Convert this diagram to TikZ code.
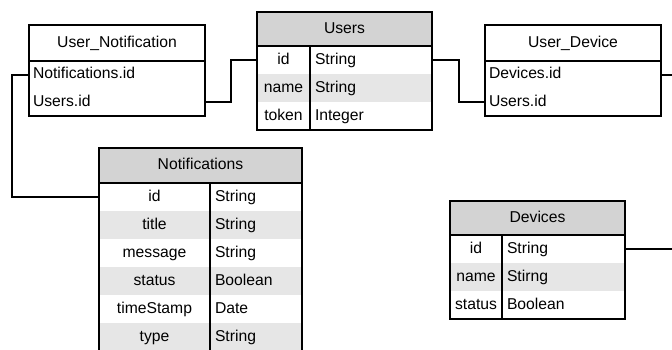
\documentclass[tikz,border=0pt]{standalone}
\usepackage{fontspec}
\setmainfont{Liberation Sans}
\definecolor{headgray}{HTML}{D3D3D3}
\definecolor{rowgray}{HTML}{E6E6E6}

\tikzset{
  every node/.style={font=\fontsize{15.7}{18}\selectfont, inner sep=0pt, outer sep=0pt,
    text height=11.5pt, text depth=3.5pt},
  head/.style 2 args={draw, fill=#2, anchor=north west, minimum width=#1pt, minimum height=34pt},
  namecell/.style={anchor=north west, minimum height=28pt, minimum width=#1pt},
  typecell/.style={anchor=north west, minimum height=28pt, text width=#1pt, align=left, inner xsep=5pt}
}

\begin{document}
\begin{tikzpicture}
  [x=1pt,y=-1pt,line width=1.6pt]
  \useasboundingbox (0,0) rectangle (672,349);
  \clip (0,0) rectangle (672,349);

  % User_Notification
  \node[head={176}{white}, minimum height=36pt] (unotif) at (29,25) {User\_Notification};
  \node[typecell=168, inner xsep=4pt, minimum height=27.5pt] (unotif-r1) at (29,61) {Notifications.id};
  \node[typecell=168, inner xsep=4pt, minimum height=27.5pt] (unotif-r2) at (unotif-r1.south west) {Users.id};
  \draw (unotif-r1.north west) rectangle (unotif-r2.south east);

  % Users
  \node[head={175}{headgray}] (users) at (257,12) {Users};
  \foreach \n/\t/\c [count=\i] in {id/String/white, name/String/rowgray, token/Integer/white} {
    \node[namecell=53, fill=\c] (users-n\i) at (257,{18+28*\i}) {\n};
    \node[typecell=112, fill=\c] (users-t\i) at (users-n\i.north east) {\t};
  }
  \draw (users-n1.north west) rectangle (users-t3.south east);
  \draw (users-n1.north east) -- (users-n3.south east);

  % User_Device
  \node[head={176}{white}, minimum height=36pt] (udevice) at (485,25) {User\_Device};
  \node[typecell=168, inner xsep=4pt, minimum height=27.5pt] (udevice-r1) at (485,61) {Devices.id};
  \node[typecell=168, inner xsep=4pt, minimum height=27.5pt] (udevice-r2) at (udevice-r1.south west) {Users.id};
  \draw (udevice-r1.north west) rectangle (udevice-r2.south east);

  % Notifications
  \node[head={203}{headgray}, minimum height=35pt] (notif) at (99,148) {Notifications};
  \foreach \n/\t/\c [count=\i] in {id/String/white, title/String/rowgray, message/String/white,
      status/Boolean/rowgray, timeStamp/Date/white, type/String/rowgray} {
    \node[namecell=111, fill=\c] (notif-n\i) at (99,{155+28*\i}) {\n};
    \node[typecell=82, fill=\c] (notif-t\i) at (notif-n\i.north east) {\t};
  }
  \draw (notif-n1.north west) rectangle (notif-t6.south east);
  \draw (notif-n1.north east) -- (notif-n6.south east);

  % Devices
  \node[head={175}{headgray}] (devices) at (450,201) {Devices};
  \foreach \n/\t/\c [count=\i] in {id/String/white, name/Stirng/rowgray, status/Boolean/white} {
    \node[namecell=52, fill=\c] (devices-n\i) at (450,{207+28*\i}) {\n};
    \node[typecell=113, fill=\c] (devices-t\i) at (devices-n\i.north east) {\t};
  }
  \draw (devices-n1.north west) rectangle (devices-t3.south east);
  \draw (devices-n1.north east) -- (devices-n3.south east);

  % links
  \draw (unotif-r1.west) -- ++(-17,0) |- (notif-n1.west);
  \draw (unotif-r2.east) -- ++(26,0) |- (users-n1.west);
  \draw (users-t1.east) -- ++(27,0) |- (udevice-r2.west);
  \draw (udevice-r1.east) -- ++(20,0) |- (devices-t1.east);

\end{tikzpicture}
\end{document}
